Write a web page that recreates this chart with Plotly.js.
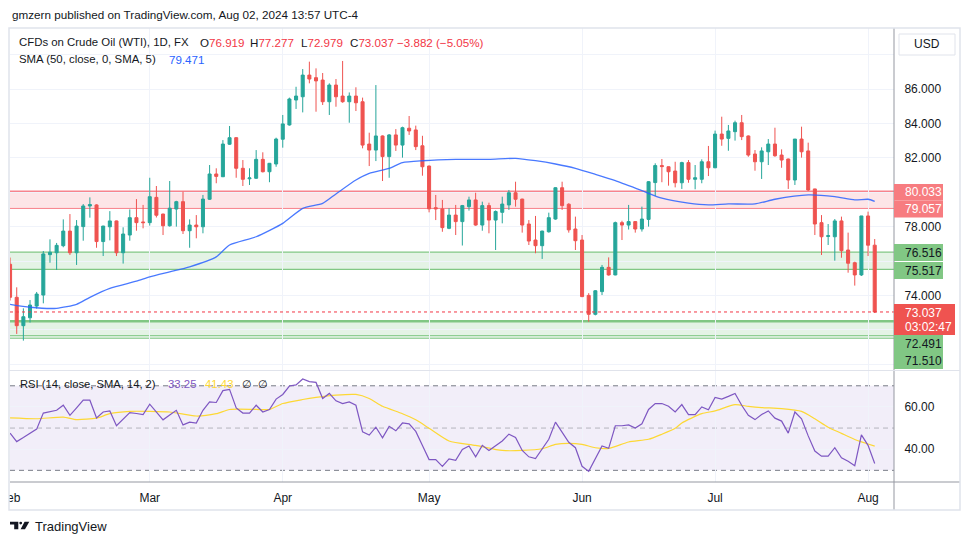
<!DOCTYPE html>
<html><head><meta charset="utf-8">
<script src="https://cdn.plot.ly/plotly-3.0.1.min.js"></script>
<style>html,body{margin:0;padding:0;background:#fff;}#chart{width:970px;height:545px;}</style>
</head><body><div id="chart"></div>
<script>
// ---------- DATA ----------
const dates = [
'2024-02-01','2024-02-02','2024-02-05','2024-02-06','2024-02-07','2024-02-08','2024-02-09','2024-02-12','2024-02-13','2024-02-14','2024-02-15','2024-02-16','2024-02-19','2024-02-20','2024-02-21','2024-02-22','2024-02-23','2024-02-26','2024-02-27','2024-02-28','2024-02-29',
'2024-03-01','2024-03-04','2024-03-05','2024-03-06','2024-03-07','2024-03-08','2024-03-11','2024-03-12','2024-03-13','2024-03-14','2024-03-15','2024-03-18','2024-03-19','2024-03-20','2024-03-21','2024-03-22','2024-03-25','2024-03-26','2024-03-27','2024-03-28',
'2024-04-01','2024-04-02','2024-04-03','2024-04-04','2024-04-05','2024-04-08','2024-04-09','2024-04-10','2024-04-11','2024-04-12','2024-04-15','2024-04-16','2024-04-17','2024-04-18','2024-04-19','2024-04-22','2024-04-23','2024-04-24','2024-04-25','2024-04-26','2024-04-29','2024-04-30',
'2024-05-01','2024-05-02','2024-05-03','2024-05-06','2024-05-07','2024-05-08','2024-05-09','2024-05-10','2024-05-13','2024-05-14','2024-05-15','2024-05-16','2024-05-17','2024-05-20','2024-05-21','2024-05-22','2024-05-23','2024-05-24','2024-05-27','2024-05-28','2024-05-29','2024-05-30','2024-05-31',
'2024-06-03','2024-06-04','2024-06-05','2024-06-06','2024-06-07','2024-06-10','2024-06-11','2024-06-12','2024-06-13','2024-06-14','2024-06-17','2024-06-18','2024-06-19','2024-06-20','2024-06-21','2024-06-24','2024-06-25','2024-06-26','2024-06-27','2024-06-28',
'2024-07-01','2024-07-02','2024-07-03','2024-07-04','2024-07-05','2024-07-08','2024-07-09','2024-07-10','2024-07-11','2024-07-12','2024-07-15','2024-07-16','2024-07-17','2024-07-18','2024-07-19','2024-07-22','2024-07-23','2024-07-24','2024-07-25','2024-07-26','2024-07-29','2024-07-30','2024-07-31',
'2024-08-01','2024-08-02'];

const opens = [75.81,73.89,72.24,72.70,73.38,74.02,76.37,76.48,76.89,77.74,
76.48,78.00,79.20,79.26,77.13,77.99,78.33,76.48,77.51,78.52,
78.27,78.23,79.70,78.73,78.05,79.02,79.45,77.76,78.09,77.99,
79.59,81.06,80.90,82.79,83.17,81.39,80.78,80.81,81.91,81.19,
81.64,83.08,83.91,85.36,85.55,86.81,86.66,86.52,85.26,86.23,
85.59,85.26,85.59,85.26,82.80,82.45,83.27,82.07,83.33,82.74,
83.72,83.62,82.70,81.52,79.10,79.03,77.90,78.67,78.29,79.16,
79.55,78.09,79.22,78.38,78.83,79.26,79.97,79.60,78.15,77.22,
76.89,77.70,78.44,80.26,79.30,77.86,77.22,74.00,72.90,74.22,
75.63,75.19,78.23,78.09,78.29,77.86,78.42,80.56,81.55,81.48,
81.23,80.55,81.72,80.75,80.75,81.77,81.42,83.38,83.13,83.52,
84.04,83.27,82.22,81.77,82.35,82.80,82.16,81.93,80.71,83.09,
82.40,80.19,78.23,77.43,77.41,78.33,76.64,75.90,75.19,78.62,
76.919];
const highs = [76.20,74.47,73.25,73.73,74.20,76.58,77.26,77.05,78.42,78.73,
78.38,79.31,79.70,79.30,78.05,78.90,78.35,77.96,79.00,79.60,
79.26,80.84,80.36,78.75,80.65,79.50,80.03,78.42,78.67,79.84,
81.58,81.39,83.03,83.85,83.20,81.87,81.39,82.45,82.32,81.70,
83.17,84.49,85.50,86.13,87.16,87.59,87.20,86.93,86.33,86.58,
87.63,85.80,86.10,85.50,83.46,86.23,83.30,83.38,83.67,83.81,
84.43,83.87,83.28,81.55,79.84,79.55,79.07,79.26,79.26,79.74,
79.97,79.45,79.39,78.94,79.74,80.13,80.61,79.62,78.38,78.62,
77.76,78.81,80.29,80.61,79.36,78.58,77.51,74.13,74.31,75.77,
76.21,78.29,78.34,79.26,78.31,79.16,80.65,81.68,81.93,81.50,
81.77,81.77,81.87,81.58,81.91,82.69,83.58,84.39,83.91,84.16,
84.49,83.30,82.45,82.61,83.09,83.75,82.49,81.95,83.09,83.81,
82.88,80.20,78.67,78.15,78.44,78.58,77.65,75.96,78.62,78.87,
77.277];
const lows = [73.70,71.76,71.37,72.42,73.23,73.54,75.90,75.48,76.80,76.35,
75.77,77.18,78.52,76.77,76.29,77.20,76.29,75.85,77.18,77.76,
77.90,78.06,78.53,77.51,78.00,78.00,77.57,76.77,77.32,77.61,
79.55,80.52,80.88,82.75,80.84,80.36,80.42,80.77,81.15,80.58,
81.48,82.59,83.87,84.84,84.64,86.33,84.68,85.07,84.49,84.97,
85.20,84.04,84.72,82.55,81.52,81.81,80.65,80.84,82.40,82.01,
83.33,82.45,80.96,78.83,78.38,77.70,77.85,77.51,76.90,78.93,
78.05,77.76,77.61,76.64,78.19,78.97,79.16,77.65,76.93,76.45,
76.12,77.65,78.40,78.97,77.65,76.64,73.90,72.47,72.84,74.02,
75.15,75.17,77.22,77.83,77.65,77.71,78.00,79.78,80.58,80.38,
80.28,80.19,80.55,80.17,80.52,80.94,81.40,82.70,82.41,83.00,
83.03,82.06,81.25,80.77,81.58,82.06,81.42,80.19,80.42,82.01,
80.07,77.51,76.35,76.93,76.02,76.19,75.32,74.57,75.13,76.29,
72.979];
const closes = [73.89,72.24,72.76,73.44,74.08,76.41,76.51,76.91,77.74,76.48,
78.03,79.20,79.28,77.13,78.03,78.33,76.48,77.57,78.52,78.23,
78.23,79.74,78.66,78.05,79.07,79.45,77.76,78.09,77.99,79.60,
81.06,80.92,82.80,83.17,81.39,80.75,80.83,81.91,81.19,81.68,
83.09,83.97,85.42,85.59,86.81,86.58,86.47,85.26,86.23,85.55,
85.26,85.59,85.20,82.74,82.45,83.27,82.07,83.33,82.74,83.75,
83.56,82.65,81.48,79.03,79.03,77.94,78.67,78.29,79.22,79.55,
78.09,79.22,78.38,78.88,79.31,79.97,79.59,78.09,77.16,76.89,
77.74,78.52,80.26,79.22,77.81,77.18,73.93,72.90,74.27,75.63,
75.19,78.23,78.09,78.29,77.86,78.44,80.61,81.55,81.49,81.19,
80.55,81.72,80.75,80.84,81.77,81.42,83.38,83.09,83.56,84.04,
83.23,82.16,81.77,82.40,82.80,82.12,81.87,80.71,83.09,82.35,
80.13,78.15,77.41,77.47,78.33,76.60,75.87,75.19,78.62,76.919,
73.037];

// SMA(50) read at sample bars
const smaIdx  = [0,3,7,10,12,15,19,21,24,27,31,33,37,41,44,47,49,52,54,57,59,62,67,72,76,79,82,85,88,91,95,98,102,105,108,112,115,120,124,127,129,130];
const smaVals = [73.48,73.31,73.25,73.48,73.89,74.41,74.83,75.08,75.37,75.66,76.24,76.93,77.41,78.19,79.06,79.35,79.90,80.71,81.10,81.39,81.72,81.83,81.91,81.91,81.97,81.83,81.64,81.39,81.04,80.67,80.09,79.65,79.36,79.26,79.32,79.32,79.59,79.84,79.74,79.55,79.59,79.471];

// RSI(14) per bar
const rsiVals = [47.6,43.6,45.5,47.5,49.5,57.1,57.6,58.4,60.8,56.0,
59.6,63.2,63.2,54.8,57.6,58.1,51.1,54.2,57.3,56.9,
56.4,61.3,57.6,53.9,56.2,58.4,51.5,52.8,52.4,58.4,
62.4,62.1,67.7,68.3,59.5,57.1,57.1,60.8,57.6,58.8,
63.7,65.9,69.9,70.4,73.2,72.0,71.6,64.0,66.4,62.9,
61.6,62.4,60.8,48.2,46.7,50.4,45.4,50.8,48.7,52.4,
52.0,48.4,41.8,35.1,35.1,31.9,35.4,34.7,39.9,41.5,
36.4,41.8,39.4,41.6,43.9,47.1,45.5,39.4,36.4,35.6,
40.1,44.7,52.8,48.1,43.3,40.7,31.9,29.5,35.4,41.5,
40.4,51.1,51.1,51.5,50.0,52.0,58.8,61.6,61.6,60.3,
57.6,61.1,56.4,56.4,60.0,58.7,64.5,63.7,65.0,66.4,
60.8,56.0,54.0,56.4,58.1,54.7,53.3,47.6,57.6,54.4,
46.3,39.1,36.7,36.7,40.7,35.9,34.3,32.2,46.8,41.8,
33.25];
// RSI-based MA(14) at sample bars
const rsiMaIdx  = [0,4,8,10,13,15,18,21,24,28,31,33,37,39,41,44,46,49,52,54,56,59,61,63,66,70,74,77,80,82,84,86,88,90,93,96,98,100,101,104,106,109,111,113,116,119,121,123,125,127,130];
const rsiMaVals = [54.8,54.4,55.2,54.0,54.7,56.8,57.9,57.9,57.6,55.7,56.8,58.8,58.8,58.8,61.6,63.5,64.5,65.6,65.9,64.0,60.3,56.8,53.9,49.9,43.9,41.8,39.4,39.4,40.2,42.3,42.8,42.3,40.7,40.4,43.4,44.7,47.1,49.9,52.4,56.8,58.1,61.1,60.3,59.7,59.2,57.9,54.4,50.4,47.5,44.6,41.43];

const monthTicks  = ['2024-02-01','2024-03-01','2024-04-01','2024-05-01','2024-06-03','2024-07-01','2024-08-01'];
const monthLabels = ['Feb','Mar','Apr','May','Jun','Jul','Aug'];
const priceTicks  = [70,72,74,76,78,80,82,84,86,88];
const priceLabels = ['','','74.000','','78.000','','82.000','84.000','86.000',''];
const rsiTicks  = [40,60];
const rsiLabels = ['40.00','60.00'];

const resistance = [79.057, 80.033];
const support1   = [75.517, 76.516];
const support2   = [71.510, 72.491];
const extraLine  = 71.66;
const lastPrice  = 73.037;

// ---------- LAYOUT HELPERS ----------
const W = 970, H = 545;
const px = v => v / W;
const py = v => 1 - v / H;
const FONT = 'Liberation Sans, Arial, sans-serif';
const TXT = '#131722';
const RED = '#f23645';
const L = 10, R = 894;

const traces = [
  {type:'candlestick', x:dates, open:opens, high:highs, low:lows, close:closes,
   xaxis:'x', yaxis:'y', whiskerwidth:0,
   increasing:{line:{color:'#26a69a', width:1}, fillcolor:'#26a69a'},
   decreasing:{line:{color:'#ef5350', width:1}, fillcolor:'#ef5350'},
   hoverinfo:'skip', showlegend:false},
  {type:'scatter', mode:'lines', x:smaIdx.map(i=>dates[i]), y:smaVals, xaxis:'x', yaxis:'y',
   line:{color:'#2962ff', width:1.3, shape:'spline', smoothing:0.6}, opacity:0.85, showlegend:false, hoverinfo:'skip'},
  {type:'scatter', mode:'lines', x:rsiMaIdx.map(i=>dates[i]), y:rsiMaVals, xaxis:'x', yaxis:'y2',
   line:{color:'#fdd835', width:1.2, shape:'spline', smoothing:0.6}, showlegend:false, hoverinfo:'skip'},
  {type:'scatter', mode:'lines', x:dates, y:rsiVals, xaxis:'x', yaxis:'y2',
   line:{color:'#7e57c2', width:1.2}, showlegend:false, hoverinfo:'skip'}
];

const shapes = [];
function hline(yref, y, color, width, dash, layer){
  shapes.push({type:'line', xref:'paper', yref:yref, x0:px(L), x1:px(R), y0:y, y1:y,
    line:{color:color, width:width, dash:dash||'solid'}, layer:layer||'below'});
}
function band(yref, y0, y1, fill){
  shapes.push({type:'rect', xref:'paper', yref:yref, x0:px(L), x1:px(R), y0:y0, y1:y1,
    fillcolor:fill, line:{width:0}, layer:'below'});
}
// price zones
band('y', resistance[0], resistance[1], 'rgba(242,54,69,0.13)');
hline('y', resistance[1], 'rgba(242,54,69,0.6)', 2.2);
hline('y', resistance[0], 'rgba(242,54,69,0.6)', 1);
band('y', support1[0], support1[1], 'rgba(76,175,80,0.15)');
hline('y', support1[1], '#81c784', 1.2);
hline('y', support1[0], '#81c784', 1.2);
band('y', support2[0], support2[1], 'rgba(76,175,80,0.15)');
hline('y', support2[1], '#81c784', 2.5);
hline('y', support2[0], '#81c784', 1.2);
hline('y', extraLine, '#81c784', 1);
hline('y', lastPrice, RED, 1, 'dot', 'above');
// RSI zone
band('y2', 30, 70, 'rgba(126,87,194,0.1)');
hline('y2', 70, '#787b86', 1, '5px,4px');
hline('y2', 30, '#787b86', 1, '5px,4px');
hline('y2', 50, 'rgba(120,123,134,0.5)', 1, '5px,4px');

function pxRect(x0,y0,x1,y1,fill,line,lw){
  shapes.push({type:'rect', xref:'paper', yref:'paper', x0:px(x0), x1:px(x1), y0:py(y1), y1:py(y0),
    fillcolor:fill||'rgba(0,0,0,0)', line:{color:line||'rgba(0,0,0,0)', width:lw||0}, layer:'above'});
}
function pxLine(x0,y0,x1,y1,color,w){
  shapes.push({type:'line', xref:'paper', yref:'paper', x0:px(x0), x1:px(x1), y0:py(y0), y1:py(y1),
    line:{color:color, width:w}, layer:'above'});
}
// clip Feb label at frame edge
pxRect(0, 480, 9, 512, '#ffffff');
// frame & separators
pxLine(R, 28, R, 510, '#9598a1', 1);
pxLine(L, 482, 960, 482, '#9598a1', 1);
pxLine(9, 370.5, 960, 370.5, '#e0e3eb', 1);
pxRect(9, 28, 960, 510, null, '#e0e3eb', 1.5);
// USD box
pxRect(899, 34, 955, 55, '#ffffff', '#e0e3eb', 1);
// price labels
pxRect(894, 184, 943, 200.5, '#f77c80');
pxRect(894, 200.5, 943, 217.5, '#f77c80');
pxRect(894, 244, 943, 261, '#81c784');
pxRect(894, 262, 943, 279, '#81c784');
pxRect(894, 304, 955, 335, '#ef5350');
pxRect(894, 335, 943, 352, '#81c784');
pxRect(894, 352, 943, 369, '#81c784');
// TradingView logo icon
function pxPath(pts){
  return 'M' + pts.map(p => px(p[0]).toFixed(5) + ',' + py(p[1]).toFixed(5)).join(' L') + ' Z';
}
shapes.push({type:'path', xref:'paper', yref:'paper', layer:'above', fillcolor:'#131722', line:{width:0},
  path: pxPath([[10,521.7],[18.3,521.7],[18.3,529.3],[14.2,529.3],[14.2,524.6],[10,524.6]])});
shapes.push({type:'circle', xref:'paper', yref:'paper', layer:'above', fillcolor:'#131722', line:{width:0},
  x0:px(19.3), x1:px(22.1), y0:py(524.5), y1:py(521.7)});
shapes.push({type:'path', xref:'paper', yref:'paper', layer:'above', fillcolor:'#131722', line:{width:0},
  path: pxPath([[24.6,521.7],[29.3,521.7],[25.0,529.3],[20.6,529.3]])});

const annotations = [];
function txt(x, y, text, color, size, anchor){
  annotations.push({xref:'paper', yref:'paper', x:px(x), y:py(y), text:text, showarrow:false,
    xanchor:anchor||'left', yanchor:'middle', font:{family:FONT, size:size||12, color:color||TXT}});
}
const red = s => '<span style="color:'+RED+'">'+s+'</span>';
txt(10, 14, 'gmzern published on TradingView.com, Aug 02, 2024 13:57 UTC-4', TXT, 11.7);
txt(17, 42, 'CFDs on Crude Oil (WTI), 1D, FX', TXT, 11.4);
txt(197.7, 42, 'O' + red('76.919'), TXT, 11.6);
txt(248.3, 42, 'H' + red('77.277'), TXT, 11.6);
txt(298.7, 42, 'L' + red('72.979'), TXT, 11.6);
txt(348.3, 42, 'C' + red('73.037'), TXT, 11.6);
txt(395, 42, '\u22123.882 (\u22125.05%)', RED, 11.6);
txt(17, 59, 'SMA (50, close, 0, SMA, 5)', TXT, 11.4);
txt(166.5, 59, '79.471', '#2962ff', 11.6);
txt(18, 384, 'RSI (14, close, SMA, 14, 2)', TXT, 11.2);
txt(166, 384, '33.25', '#7e57c2', 11.4);
txt(202.7, 384, '41.43', '#fdd835', 11.4);
txt(240, 384, '\u2205', TXT, 11.4);
txt(255.7, 384, '\u2205', TXT, 11.4);
txt(927, 44.5, 'USD', TXT, 12, 'center');
txt(903, 192.3, '80.033', '#ffffff', 12);
txt(903, 209, '79.057', '#ffffff', 12);
txt(903, 252.5, '76.516', TXT, 12);
txt(903, 270.5, '75.517', TXT, 12);
txt(903, 312.5, '73.037', '#ffffff', 12);
txt(903, 326.5, '03:02:47', '#ffffff', 12);
txt(903, 343.5, '72.491', TXT, 12);
txt(903, 360.5, '71.510', TXT, 12);
txt(33, 526.7, 'TradingView', TXT, 13);

const layout = {
  width:W, height:H, autosize:false,
  margin:{l:0, r:0, t:0, b:0, pad:0},
  paper_bgcolor:'#ffffff', plot_bgcolor:'#ffffff',
  showlegend:false, hovermode:false, dragmode:false,
  font:{family:FONT, color:TXT, size:12},
  boxgap:0.35,
  xaxis:{type:'category', categoryorder:'array', categoryarray:dates,
    domain:[px(L), px(R)], range:[-0.01, 132.9], anchor:'y2',
    tickmode:'array', tickvals:monthTicks, ticktext:monthLabels,
    ticks:'outside', ticklen:5, tickcolor:'rgba(0,0,0,0)',
    tickfont:{family:FONT, size:12, color:TXT},
    showgrid:true, gridcolor:'#f0f3fa', gridwidth:1, showline:false, zeroline:false,
    rangeslider:{visible:false}, fixedrange:true},
  yaxis:{domain:[py(370), py(28)], range:[69.663, 89.547], side:'right', anchor:'x',
    tickmode:'array', tickvals:priceTicks, ticktext:priceLabels,
    ticks:'outside', ticklen:7, tickcolor:'rgba(0,0,0,0)',
    tickfont:{family:FONT, size:12, color:TXT},
    showgrid:true, gridcolor:'#f0f3fa', gridwidth:1, zeroline:false, showline:false, fixedrange:true},
  yaxis2:{domain:[py(482), py(371)], range:[24.48, 77.0], side:'right', anchor:'x',
    tickmode:'array', tickvals:rsiTicks, ticktext:rsiLabels,
    ticks:'outside', ticklen:7, tickcolor:'rgba(0,0,0,0)',
    tickfont:{family:FONT, size:12, color:TXT},
    showgrid:true, gridcolor:'#f0f3fa', gridwidth:1, zeroline:false, showline:false, fixedrange:true},
  shapes:shapes, annotations:annotations
};

Plotly.newPlot('chart', traces, layout, {staticPlot:true, displayModeBar:false});
</script>
</body></html>
